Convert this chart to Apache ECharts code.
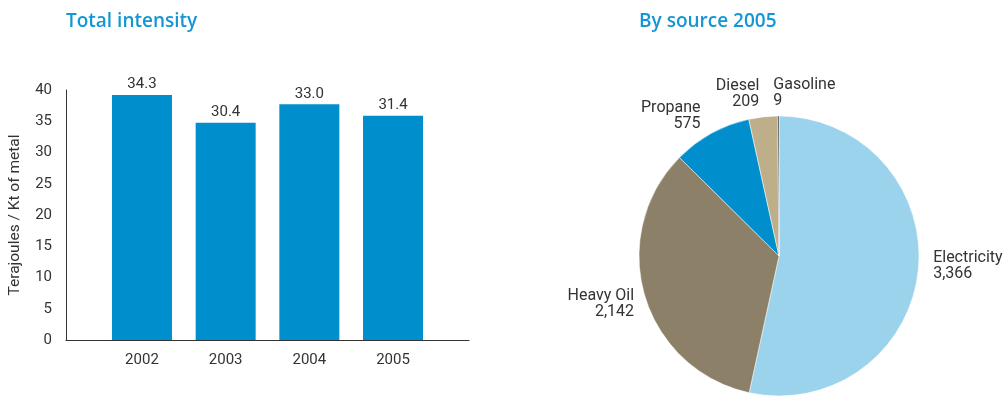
<!DOCTYPE html>
<html>
<head>
<meta charset="utf-8">
<script src="https://cdn.jsdelivr.net/npm/echarts@6/dist/echarts.min.js"></script>
<style>
html,body{margin:0;padding:0;background:#fff;}
#chart{width:1005px;height:402px;}
</style>
</head>
<body>
<div id="chart"></div>
<script>
// Bar chart data
const years = ['2002', '2003', '2004', '2005'];
const intensity = [34.3, 30.4, 33.0, 31.4];
const yTickLabels = ['0', '5', '10', '15', '20', '25', '30', '35', '40'];

// Pie chart data
const sources = ['Electricity', 'Heavy Oil', 'Propane', 'Diesel', 'Gasoline'];
const sourceValues = [3366, 2142, 575, 209, 9];
const sourceColors = ['#9bd3ec', '#8c8168', '#008fcc', '#bfae8a', '#1e1e1e'];

const FONT = 'Roboto, "DejaVu Sans", sans-serif';
const TITLE_FONT = '"Open Sans", Roboto, sans-serif';
const chart = echarts.init(document.getElementById('chart'));
const yStep = 35 / (yTickLabels.length - 1);

chart.setOption({
  backgroundColor: '#fff',
  animation: false,
  textStyle: { fontFamily: FONT },
  title: [
    { text: 'Total intensity', left: 61, top: 7,
      textStyle: { color: '#1596d4', fontSize: 19, fontWeight: 600, fontFamily: TITLE_FONT } },
    { text: 'By source 2005', left: 634, top: 7,
      textStyle: { color: '#1596d4', fontSize: 19, fontWeight: 600, fontFamily: TITLE_FONT } }
  ],
  grid: { left: 66, right: 536, top: 90, bottom: 62 },
  xAxis: {
    type: 'value',
    min: -0.908, max: 3.908,
    splitLine: { show: false },
    axisTick: { show: false },
    axisLine: { show: true, onZero: false, lineStyle: { color: '#333', width: 1 } },
    axisLabel: {
      customValues: [0, 1, 2, 3],
      formatter: v => years[Math.round(v)] || '',
      color: '#333', fontSize: 15, margin: 13, fontFamily: FONT
    }
  },
  yAxis: {
    type: 'value',
    min: 0, max: 35, interval: yStep,
    name: 'Terajoules / Kt of metal',
    nameLocation: 'middle', nameGap: 43,
    nameTextStyle: { color: '#333', fontSize: 15.5, fontFamily: FONT },
    splitLine: { show: false },
    axisTick: { show: false },
    axisLine: { show: true, onZero: false, lineStyle: { color: '#333', width: 1 } },
    axisLabel: {
      formatter: v => yTickLabels[Math.round(v / yStep)],
      color: '#333', fontSize: 15, margin: 14, fontFamily: FONT
    }
  },
  series: [
    {
      type: 'bar',
      barWidth: 60,
      itemStyle: { color: '#008fcc' },
      label: {
        show: true, position: 'top', distance: 3,
        color: '#333', fontSize: 15, fontFamily: FONT,
        formatter: p => p.value[1].toFixed(1)
      },
      data: years.map((y, i) => [i, intensity[i]])
    },
    {
      type: 'pie',
      center: [779, 256],
      radius: 140,
      startAngle: 90,
      clockwise: true,
      avoidLabelOverlap: false,
      itemStyle: { borderColor: '#fff', borderWidth: 0.5 },
      label: {
        show: true, position: 'outside',
        formatter: p => p.name + '\n' + p.value.toLocaleString('en-US'),
        color: '#333', fontSize: 16, lineHeight: 16, fontFamily: FONT
      },
      labelLine: { show: false, length: 8, length2: 6 },
      labelLayout: p => {
        const adj = [
          { dx: -4, dy: -6 },
          { dx: 8, dy: 6 },
          { dx: 4, dy: -10 },
          { dx: 8, dy: -15 },
          { dx: 6, dy: -15, align: 'left' }
        ][p.dataIndex];
        return adj;
      },
      data: sources.map((s, i) => ({ name: s, value: sourceValues[i], itemStyle: { color: sourceColors[i] } }))
    }
  ]
});
</script>
</body>
</html>
